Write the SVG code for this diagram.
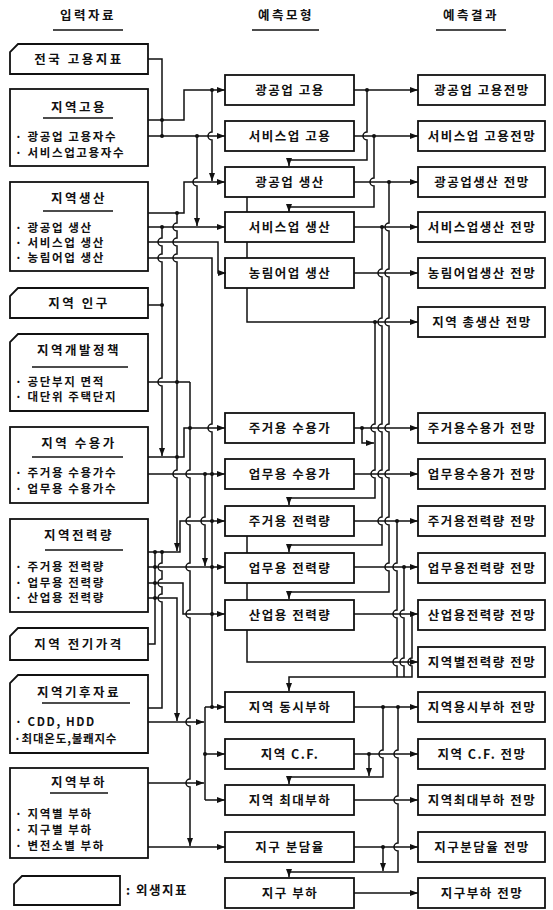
<svg xmlns="http://www.w3.org/2000/svg" width="553" height="910" viewBox="0 0 553 910">
<defs>
<marker id="ah" markerUnits="userSpaceOnUse" markerWidth="8" markerHeight="6" refX="8" refY="3" orient="auto"><path d="M0,0 L8,3 L0,6 z" fill="#111"/></marker>
</defs>
<style>
.bx{fill:#fff;stroke:#111;stroke-width:1.8}
.t{font-family:"Noto Sans CJK KR","Noto Sans",sans-serif;font-weight:700;font-size:12.5px;fill:#111;letter-spacing:1.5px}
.c{text-anchor:middle}
.ti{letter-spacing:2.5px}
.it{font-size:11.5px;letter-spacing:1.6px}
.ln{fill:none;stroke:#111;stroke-width:1.5}
.ar{marker-end:url(#ah)}
.ul{stroke:#111;stroke-width:1.5}
.dt{fill:#111}
</style>
<rect width="553" height="910" fill="#fff"/>

<g id="headers">
<text class="t c ti" x="88" y="20">입력자료</text><line class="ul" x1="53" y1="30" x2="123" y2="30"/>
<text class="t c ti" x="286" y="20">예측모형</text><line class="ul" x1="252" y1="30" x2="319" y2="30"/>
<text class="t c ti" x="471" y="20">예측결과</text><line class="ul" x1="436" y1="30" x2="506" y2="30"/>
</g>

<g id="in-national"><polygon class="bx" points="18,44 148,44 148,74 10,74 10,52"/><text class="t c ti" x="79" y="64">전국 고용지표</text></g>
<g id="in-employment"><rect class="bx" x="10" y="89" width="138" height="77"/><text class="t c ti" x="79" y="112">지역고용</text><line class="ul" x1="43" y1="118" x2="113" y2="118"/><text class="t it" x="15" y="141">· 광공업 고용자수</text><text class="t it" x="15" y="157">· 서비스업고용자수</text></g>
<g id="in-production"><rect class="bx" x="10" y="182" width="138" height="89"/><text class="t c ti" x="79" y="203">지역생산</text><line class="ul" x1="43" y1="211" x2="113" y2="211"/><text class="t it" x="15" y="232">· 광공업 생산</text><text class="t it" x="15" y="247">· 서비스업 생산</text><text class="t it" x="15" y="262">· 농림어업 생산</text></g>
<g id="in-population"><polygon class="bx" points="18,288 148,288 148,318 10,318 10,296"/><text class="t c ti" x="79" y="308">지역 인구</text></g>
<g id="in-policy"><polygon class="bx" points="18,334 148,334 148,411 10,411 10,342"/><text class="t c ti" x="79" y="355">지역개발정책</text><line class="ul" x1="32" y1="367" x2="128" y2="367"/><text class="t it" x="15" y="386">· 공단부지 면적</text><text class="t it" x="15" y="401">· 대단위 주택단지</text></g>
<g id="in-customers"><rect class="bx" x="10" y="427" width="138" height="76"/><text class="t c ti" x="79" y="448">지역 수용가</text><line class="ul" x1="32" y1="457" x2="123" y2="457"/><text class="t it" x="15" y="477">· 주거용 수용가수</text><text class="t it" x="15" y="493">· 업무용 수용가수</text></g>
<g id="in-consumption"><rect class="bx" x="10" y="519" width="138" height="93"/><text class="t c ti" x="79" y="540">지역전력량</text><line class="ul" x1="45" y1="550" x2="123" y2="550"/><text class="t it" x="15" y="571">· 주거용 전력량</text><text class="t it" x="15" y="587">· 업무용 전력량</text><text class="t it" x="15" y="602">· 산업용 전력량</text></g>
<g id="in-price"><polygon class="bx" points="18,628 148,628 148,660 10,660 10,636"/><text class="t c ti" x="79" y="649">지역 전기가격</text></g>
<g id="in-climate"><polygon class="bx" points="18,675 148,675 148,753 10,753 10,683"/><text class="t c ti" x="79" y="697">지역기후자료</text><line class="ul" x1="42" y1="703" x2="130" y2="703"/><text class="t it" x="15" y="726">· CDD, HDD</text><text class="t it" style="letter-spacing:0.8px" x="14" y="743">·최대온도,불쾌지수</text></g>
<g id="in-load"><rect class="bx" x="10" y="768" width="138" height="90"/><text class="t c ti" x="79" y="787">지역부하</text><line class="ul" x1="50" y1="793" x2="108" y2="793"/><text class="t it" x="15" y="818">· 지역별 부하</text><text class="t it" x="15" y="834">· 지구별 부하</text><text class="t it" x="15" y="850">· 변전소별 부하</text></g>
<g id="legend"><polygon class="bx" points="22,876 120,876 120,905 14,905 14,884"/><text class="t" x="126" y="895">: 외생지표</text></g>

<g id="m-mining-emp"><rect class="bx" x="225" y="75" width="129" height="30"/><text class="t c" x="290" y="95">광공업 고용</text></g>
<g id="m-service-emp"><rect class="bx" x="225" y="121" width="129" height="30"/><text class="t c" x="290" y="141">서비스업 고용</text></g>
<g id="m-mining-prod"><rect class="bx" x="225" y="167" width="129" height="30"/><text class="t c" x="290" y="187">광공업 생산</text></g>
<g id="m-service-prod"><rect class="bx" x="225" y="212" width="129" height="30"/><text class="t c" x="290" y="232">서비스업 생산</text></g>
<g id="m-agri-prod"><rect class="bx" x="225" y="258" width="129" height="30"/><text class="t c" x="290" y="278">농림어업 생산</text></g>
<g id="m-res-cust"><rect class="bx" x="225" y="413" width="129" height="30"/><text class="t c" x="290" y="433">주거용 수용가</text></g>
<g id="m-com-cust"><rect class="bx" x="225" y="459" width="129" height="30"/><text class="t c" x="290" y="479">업무용 수용가</text></g>
<g id="m-res-elec"><rect class="bx" x="225" y="506" width="129" height="30"/><text class="t c" x="290" y="526">주거용 전력량</text></g>
<g id="m-com-elec"><rect class="bx" x="225" y="553" width="129" height="30"/><text class="t c" x="290" y="573">업무용 전력량</text></g>
<g id="m-ind-elec"><rect class="bx" x="225" y="600" width="129" height="30"/><text class="t c" x="290" y="620">산업용 전력량</text></g>
<g id="m-coinc"><rect class="bx" x="225" y="692" width="129" height="30"/><text class="t c" x="290" y="712">지역 동시부하</text></g>
<g id="m-cf"><rect class="bx" x="225" y="739" width="129" height="30"/><text class="t c" x="290" y="759">지역 C.F.</text></g>
<g id="m-peak"><rect class="bx" x="225" y="785" width="129" height="30"/><text class="t c" x="290" y="805">지역 최대부하</text></g>
<g id="m-share"><rect class="bx" x="225" y="832" width="129" height="30"/><text class="t c" x="290" y="852">지구 분담율</text></g>
<g id="m-district"><rect class="bx" x="225" y="878" width="129" height="30"/><text class="t c" x="290" y="898">지구 부하</text></g>

<g id="r-mining-emp"><rect class="bx" x="418" y="75" width="127" height="30"/><text class="t c" x="482" y="95">광공업 고용전망</text></g>
<g id="r-service-emp"><rect class="bx" x="418" y="121" width="127" height="30"/><text class="t c" x="482" y="141">서비스업 고용전망</text></g>
<g id="r-mining-prod"><rect class="bx" x="418" y="167" width="127" height="30"/><text class="t c" x="482" y="187">광공업생산 전망</text></g>
<g id="r-service-prod"><rect class="bx" x="418" y="212" width="127" height="30"/><text class="t c" x="482" y="232">서비스업생산 전망</text></g>
<g id="r-agri-prod"><rect class="bx" x="418" y="258" width="127" height="30"/><text class="t c" x="482" y="278">농림어업생산 전망</text></g>
<g id="r-total-prod"><rect class="bx" x="418" y="307" width="127" height="30"/><text class="t c" x="482" y="327">지역 총생산 전망</text></g>
<g id="r-res-cust"><rect class="bx" x="418" y="413" width="127" height="30"/><text class="t c" x="482" y="433">주거용수용가 전망</text></g>
<g id="r-com-cust"><rect class="bx" x="418" y="459" width="127" height="30"/><text class="t c" x="482" y="479">업무용수용가 전망</text></g>
<g id="r-res-elec"><rect class="bx" x="418" y="506" width="127" height="30"/><text class="t c" x="482" y="526">주거용전력량 전망</text></g>
<g id="r-com-elec"><rect class="bx" x="418" y="553" width="127" height="30"/><text class="t c" x="482" y="573">업무용전력량 전망</text></g>
<g id="r-ind-elec"><rect class="bx" x="418" y="600" width="127" height="30"/><text class="t c" x="482" y="620">산업용전력량 전망</text></g>
<g id="r-regional-elec"><rect class="bx" x="418" y="647" width="127" height="30"/><text class="t c" x="482" y="667">지역별전력량 전망</text></g>
<g id="r-coinc"><rect class="bx" x="418" y="692" width="127" height="30"/><text class="t c" x="482" y="712">지역용시부하 전망</text></g>
<g id="r-cf"><rect class="bx" x="418" y="739" width="127" height="30"/><text class="t c" x="482" y="759">지역 C.F. 전망</text></g>
<g id="r-peak"><rect class="bx" x="418" y="785" width="127" height="30"/><text class="t c" x="482" y="805">지역최대부하 전망</text></g>
<g id="r-share"><rect class="bx" x="418" y="832" width="127" height="30"/><text class="t c" x="482" y="852">지구분담율 전망</text></g>
<g id="r-district"><rect class="bx" x="418" y="878" width="127" height="30"/><text class="t c" x="482" y="898">지구부하 전망</text></g>

<g id="connectors">
<path class="ln" d="M148,59H162V137"/>
<path class="ln ar" d="M148,120H184V90H225"/>
<path class="ln ar" d="M148,136H225"/>
<path class="ln ar" d="M212,90V132a4,4 0 0 0 0,8V181"/>
<path class="ln ar" d="M197,136V178a4,4 0 0 0 0,8V226"/>
<path class="ln ar" d="M148,213H184V182H225"/>
<path class="ln ar" d="M148,227H225"/>
<path class="ln ar" d="M148,242H218V273H226"/>
<path class="ln" d="M148,258H212V424a4,4 0 0 0 0,8V707"/>
<path class="ln ar" d="M162,227V238a4,4 0 0 0 0,8V254a4,4 0 0 0 0,8V378a4,4 0 0 0 0,8V456"/>
<path class="ln" d="M148,305H162"/>
<path class="ln ar" d="M177,213V223a4,4 0 0 0 0,8V238a4,4 0 0 0 0,8V254a4,4 0 0 0 0,8V470a4,4 0 0 0 0,8V551"/>
<path class="ln" d="M148,382H190"/>
<path class="ln ar" d="M190,382V470a4,4 0 0 0 0,8V517a4,4 0 0 0 0,8V563a4,4 0 0 0 0,8V610a4,4 0 0 0 0,8V718a4,4 0 0 0 0,8V779a4,4 0 0 0 0,8V846"/>
<path class="ln ar" d="M148,457H184V428H225"/>
<path class="ln ar" d="M148,474H225"/>
<path class="ln ar" d="M205,474V517a4,4 0 0 0 0,8V566"/>
<path class="ln ar" d="M148,552H180V521H225"/>
<path class="ln ar" d="M148,567H225"/>
<path class="ln ar" d="M148,583H183V614H225"/>
<path class="ln ar" d="M148,598H177V721"/>
<path class="ln" d="M148,644H155V552"/>
<path class="ln" d="M148,708H162V602a4,4 0 0 1 0,-8V587a4,4 0 0 1 0,-8V571a4,4 0 0 1 0,-8V552"/>
<path class="ln ar" d="M148,722H204"/>
<path class="ln" d="M205,707V800"/>
<path class="ln ar" d="M205,707H225"/>
<path class="ln ar" d="M205,754H225"/>
<path class="ln ar" d="M205,800H225"/>
<path class="ln ar" d="M148,783H204"/>
<path class="ln ar" d="M148,847H225"/>

<path class="ln ar" d="M354,90H418"/>
<path class="ln ar" d="M354,136H418"/>
<path class="ln ar" d="M367,90V132a4,4 0 0 0 0,8V160H289V166"/>
<path class="ln ar" d="M354,182H418"/>
<path class="ln ar" d="M374,136V178a4,4 0 0 0 0,8V207H289V212"/>
<path class="ln ar" d="M354,227H418"/>
<path class="ln ar" d="M354,273H418"/>
<path class="ln" d="M247,197V212M247,242V258"/>
<path class="ln ar" d="M247,288V322H418"/>
<path class="ln ar" d="M389,182V223a4,4 0 0 0 0,8V269a4,4 0 0 0 0,8V318a4,4 0 0 0 0,8V424a4,4 0 0 0 0,8V470a4,4 0 0 0 0,8V517a4,4 0 0 0 0,8V563a4,4 0 0 0 0,8V592H289V599"/>
<path class="ln ar" d="M382,227V269a4,4 0 0 0 0,8V318a4,4 0 0 0 0,8V424a4,4 0 0 0 0,8V470a4,4 0 0 0 0,8V517a4,4 0 0 0 0,8V545H289V552"/>
<path class="ln ar" d="M375,322V424a4,4 0 0 0 0,8V470a4,4 0 0 0 0,8V498H289V505"/>
<path class="ln ar" d="M354,428H418"/>
<path class="ln ar" d="M362,428V443H374"/>
<path class="ln ar" d="M354,474H418"/>
<path class="ln ar" d="M354,521H418"/>
<path class="ln ar" d="M354,567H418"/>
<path class="ln ar" d="M354,614H418"/>
<path class="ln" d="M247,536V553M247,583V600"/>
<path class="ln ar" d="M247,630V662H418"/>
<path class="ln" d="M397,521V563a4,4 0 0 0 0,8V610a4,4 0 0 0 0,8V658a4,4 0 0 0 0,8V677"/>
<path class="ln" d="M404,567V610a4,4 0 0 0 0,8V658a4,4 0 0 0 0,8V677"/>
<path class="ln ar" d="M412,614V658a4,4 0 0 0 0,8V677H289V691"/>
<path class="ln ar" d="M354,707H418"/>
<path class="ln ar" d="M383,707V750a4,4 0 0 0 0,8V777H289V784"/>
<path class="ln ar" d="M354,754H418"/>
<path class="ln ar" d="M369,754V776"/>
<path class="ln ar" d="M398,707V750a4,4 0 0 0 0,8V796a4,4 0 0 0 0,8V843a4,4 0 0 0 0,8V872H289V877"/>
<path class="ln ar" d="M354,800H418"/>
<path class="ln ar" d="M354,847H418"/>
<path class="ln ar" d="M383,847V871"/>
<path class="ln ar" d="M354,893H418"/>

<g class="dt">
<circle cx="162" cy="120" r="2"/><circle cx="162" cy="136" r="2"/><circle cx="212" cy="90" r="2"/><circle cx="197" cy="136" r="2"/>
<circle cx="177" cy="213" r="2"/><circle cx="162" cy="227" r="2"/><circle cx="162" cy="305" r="2"/><circle cx="177" cy="382" r="2"/>
<circle cx="177" cy="457" r="2"/><circle cx="190" cy="428" r="2"/><circle cx="205" cy="474" r="2"/><circle cx="212" cy="474" r="2"/>
<circle cx="212" cy="521" r="2"/><circle cx="162" cy="552" r="2"/><circle cx="155" cy="552" r="2"/><circle cx="155" cy="567" r="2"/>
<circle cx="212" cy="567" r="2"/><circle cx="155" cy="583" r="2"/><circle cx="212" cy="614" r="2"/><circle cx="155" cy="598" r="2"/>
<circle cx="212" cy="707" r="2"/><circle cx="205" cy="754" r="2"/>
<circle cx="367" cy="90" r="2"/><circle cx="374" cy="136" r="2"/><circle cx="389" cy="182" r="2"/><circle cx="382" cy="227" r="2"/>
<circle cx="375" cy="322" r="2"/><circle cx="362" cy="428" r="2"/><circle cx="397" cy="521" r="2"/><circle cx="404" cy="567" r="2"/>
<circle cx="412" cy="614" r="2"/><circle cx="383" cy="707" r="2"/><circle cx="398" cy="707" r="2"/><circle cx="369" cy="754" r="2"/>
<circle cx="383" cy="847" r="2"/>
</g>
</g>
</svg>
